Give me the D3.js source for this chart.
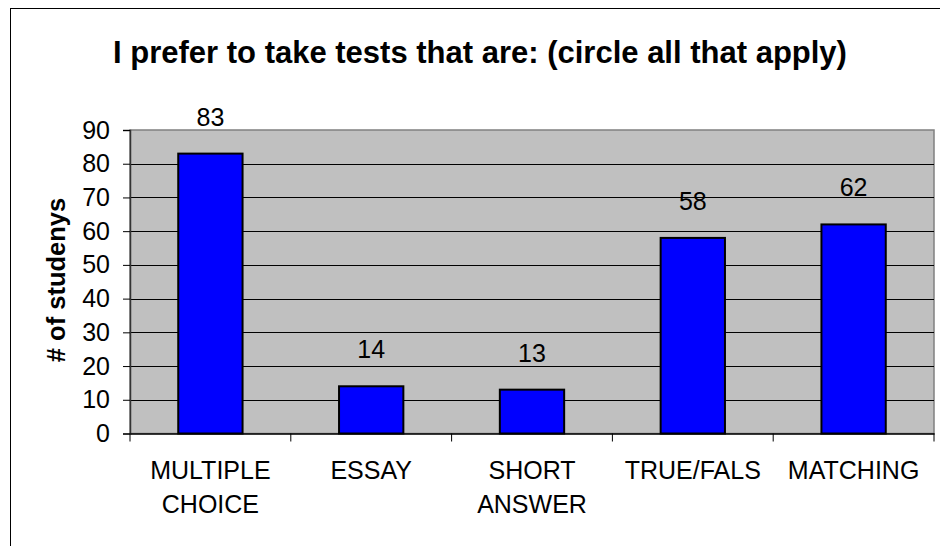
<!DOCTYPE html>
<html><head><meta charset="utf-8">
<script src="https://cdn.jsdelivr.net/npm/d3@7"></script>
<style>body{margin:0;background:#fff}svg{display:block}text{font-family:"Liberation Sans",Arial,sans-serif}</style>
</head><body><svg id="c" width="940" height="546"></svg>
<script>
const categories = ["MULTIPLE CHOICE","ESSAY","SHORT ANSWER","TRUE/FALS","MATCHING"];
const categoryLines = [["MULTIPLE","CHOICE"],["ESSAY"],["SHORT","ANSWER"],["TRUE/FALS"],["MATCHING"]];
const values = [83,14,13,58,62];
const yTicks = [0,10,20,30,40,50,60,70,80,90];
const title = "I prefer to take tests that are: (circle all that apply)";
const yTitle = "# of studenys";

const svg = d3.select("#c");
const L=130,R=934,T=130,B=433.5;
svg.append("rect").attr("x",10.5).attr("y",8.5).attr("width",960).attr("height",600)
  .attr("fill","#fff").attr("stroke","#000").attr("stroke-width",1);

const x = d3.scaleBand().domain(categories).range([L,R]).padding(0);
const y = d3.scaleLinear().domain([0,90]).range([B,T]);

svg.append("rect").attr("x",L).attr("y",T).attr("width",R-L).attr("height",B-T)
  .attr("fill","#C0C0C0").attr("stroke","#808080").attr("stroke-width",1.5);

svg.append("g").selectAll("line").data(yTicks.filter(d=>d>0&&d<90)).join("line")
  .attr("x1",L).attr("x2",R).attr("y1",d=>Math.round(y(d))+0.5).attr("y2",d=>Math.round(y(d))+0.5)
  .attr("stroke","#000").attr("stroke-width",1);

const bw = x.bandwidth()*0.4;
svg.append("g").selectAll("rect").data(values).join("rect")
  .attr("x",(d,i)=>x(categories[i])+x.bandwidth()/2-bw/2)
  .attr("y",d=>y(d)).attr("width",bw).attr("height",d=>B-y(d))
  .attr("fill","#0000FF").attr("stroke","#000").attr("stroke-width",2);

svg.append("g").selectAll("text").data(values).join("text")
  .attr("x",(d,i)=>x(categories[i])+x.bandwidth()/2)
  .attr("y",d=>y(d)-28).attr("text-anchor","middle").attr("font-size",25).attr("fill","#000")
  .text(d=>d);

// y axis
const yAxis = d3.axisLeft(y).tickValues(yTicks).tickSize(7).tickPadding(13);
const gy = svg.append("g").attr("transform",`translate(${L},0)`).call(yAxis);
gy.select(".domain").attr("stroke","#333").attr("stroke-width",1.5);
gy.selectAll(".tick line").attr("stroke","#000");
gy.selectAll(".tick text").attr("font-size",25).attr("font-family","Liberation Sans, Arial").attr("fill","#000");

// x axis
const xAxis = d3.axisBottom(x).tickSize(0).tickFormat("");
const gx = svg.append("g").attr("transform",`translate(0,${B})`).call(xAxis);
gx.select(".domain").attr("stroke","#000").attr("stroke-width",1.5);
const bounds = categories.map(c=>x(c)).concat([R]);
gx.selectAll(".bt").data(bounds).join("line").attr("class","bt")
  .attr("x1",d=>d).attr("x2",d=>d).attr("y1",0).attr("y2",8).attr("stroke","#000");

const xl = svg.append("g").selectAll("text").data(categoryLines).join("text")
  .attr("text-anchor","middle").attr("font-size",25).attr("fill","#000")
  .attr("transform",(d,i)=>`translate(${x(categories[i])+x.bandwidth()/2},479)`);
xl.selectAll("tspan").data(d=>d).join("tspan").attr("x",0).attr("dy",(d,j)=>j===0?0:33.7).text(d=>d);

svg.append("text").attr("x",480).attr("y",63).attr("text-anchor","middle")
  .attr("font-size",31).attr("font-weight","bold").text(title);

svg.append("text").attr("transform","translate(65,280) rotate(-90)").attr("text-anchor","middle")
  .attr("font-size",25.5).attr("font-weight","bold").text(yTitle);
</script></body></html>
